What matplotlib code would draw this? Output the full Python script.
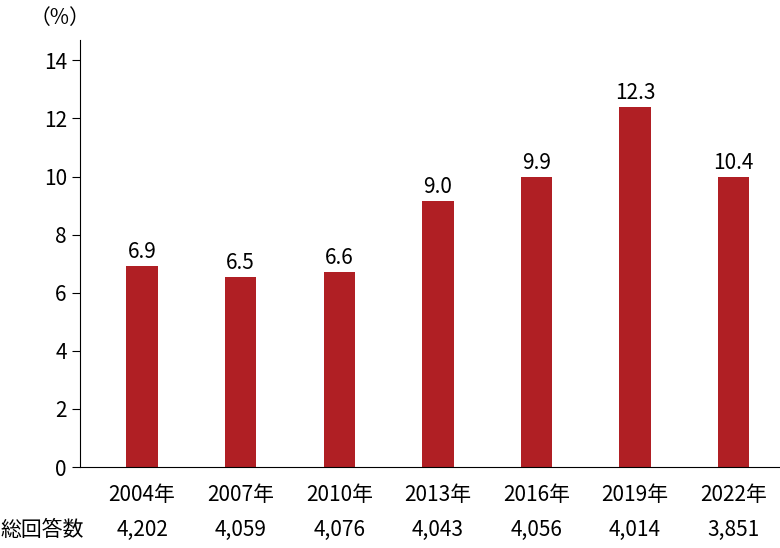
import matplotlib
matplotlib.use("Agg")
import matplotlib.pyplot as plt

plt.rcParams['font.family'] = ['Noto Sans CJK JP', 'DejaVu Sans']

years = ["2004年", "2007年", "2010年", "2013年", "2016年", "2019年", "2022年"]
totals = ["4,202", "4,059", "4,076", "4,043", "4,056", "4,014", "3,851"]
labels = ["6.9", "6.5", "6.6", "9.0", "9.9", "12.3", "10.4"]
heights = [6.93, 6.55, 6.72, 9.17, 9.97, 12.38, 10.0]

fig = plt.figure(figsize=(7.8, 5.48), dpi=100)
W, H = 780, 548
ax = fig.add_axes([80/W, 1-467/H, 700/W, (467-40)/H])
x = list(range(len(years)))
ax.bar(x, heights, width=0.32, color="#b01f24")
for xi, h, l in zip(x, heights, labels):
    ax.text(xi, h + 0.1, l, ha="center", va="bottom", fontsize=15)
ax.set_xlim(-0.63, 6.47)
ax.set_ylim(0, 14.7)
ax.set_yticks(range(0, 15, 2))
ax.tick_params(axis="y", labelsize=15, length=6, direction="out")
ax.set_xticks(x)
ax.set_xticklabels(years, fontsize=15)
ax.tick_params(axis="x", length=0, pad=12)
for s in ["top", "right"]:
    ax.spines[s].set_visible(False)
for xi, t in zip(x, totals):
    ax.text(xi, -0.147, t, transform=ax.get_xaxis_transform(), ha="center", va="center", fontsize=15)
fig.text(0/W, 1-530/H, "総回答数", ha="left", va="center", fontsize=15)
fig.text(30/W, 1-18/H, "（%）", ha="left", va="center", fontsize=15)
fig.savefig("out.png", dpi=100)
